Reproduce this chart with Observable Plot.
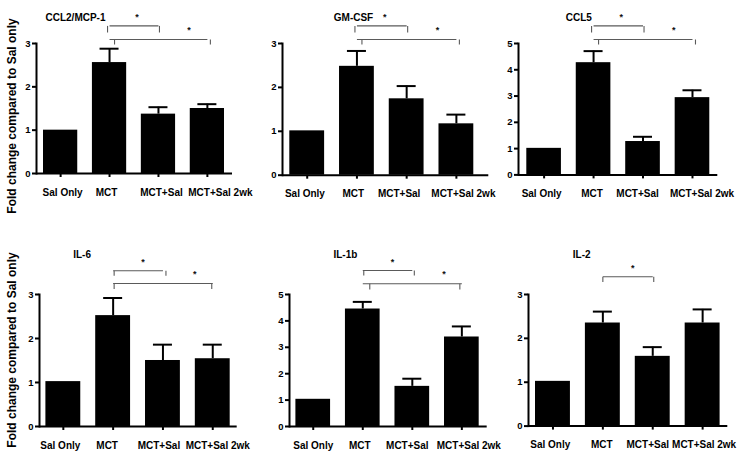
<!DOCTYPE html>
<html><head><meta charset="utf-8">
<script src="https://cdn.jsdelivr.net/npm/d3@7"></script>
<script src="https://cdn.jsdelivr.net/npm/@observablehq/plot@0.6"></script>
<style>
body{margin:0;background:#fff;}
#c{position:relative;width:747px;height:454px;overflow:hidden;font-family:"Liberation Sans",Arial,sans-serif;background:#fff;}
#c svg{position:absolute;overflow:visible;}
.yl{position:absolute;font-weight:bold;font-size:12px;white-space:nowrap;color:#000;transform:translate(-50%,-50%) rotate(-90deg);}
</style></head><body><div id="c"></div>
<script>
// ---- data ----
const categories = ["Sal Only", "MCT", "MCT+Sal", "MCT+Sal 2wk"];
const titles = ["CCL2/MCP-1", "GM-CSF", "CCL5", "IL-6", "IL-1b", "IL-2"];
const yMaxes = [3, 3, 5, 3, 5, 3];
const ccl2Mean = [1.00, 2.56, 1.37, 1.50];
const ccl2Sem  = [0, 0.32, 0.16, 0.10];
const gmcsfMean = [1.01, 2.48, 1.74, 1.17];
const gmcsfSem  = [0, 0.35, 0.29, 0.21];
const ccl5Mean = [1.01, 4.27, 1.27, 2.94];
const ccl5Sem  = [0, 0.44, 0.18, 0.28];
const il6Mean = [1.02, 2.52, 1.50, 1.54];
const il6Sem  = [0, 0.40, 0.36, 0.32];
const il1bMean = [1.03, 4.45, 1.52, 3.39];
const il1bSem  = [0, 0.27, 0.29, 0.40];
const il2Mean = [1.02, 2.35, 1.59, 2.35];
const il2Sem  = [0, 0.26, 0.21, 0.31];
const twoComparisons = [["MCT", "MCT+Sal"], ["MCT", "MCT+Sal 2wk"]];
const oneComparison = [["MCT", "MCT+Sal"]];
const yLabel = "Fold change compared to Sal only";

const panels = [
  {title: titles[0], yMax: yMaxes[0], mean: ccl2Mean, sem: ccl2Sem, comps: twoComparisons},
  {title: titles[1], yMax: yMaxes[1], mean: gmcsfMean, sem: gmcsfSem, comps: twoComparisons},
  {title: titles[2], yMax: yMaxes[2], mean: ccl5Mean, sem: ccl5Sem, comps: twoComparisons},
  {title: titles[3], yMax: yMaxes[3], mean: il6Mean, sem: il6Sem, comps: twoComparisons},
  {title: titles[4], yMax: yMaxes[4], mean: il1bMean, sem: il1bSem, comps: twoComparisons},
  {title: titles[5], yMax: yMaxes[5], mean: il2Mean, sem: il2Sem, comps: oneComparison}
];

// ---- layout (pixels) ----
const topRowBr = [{top: 17.6, leg: 11, star: 26.5, nl: -2, nr: 1, sdx: 3}, {top: 4, leg: -1, star: 13.3, nl: 5, nr: 3, sdx: 6}];
const botRowBr = [{top: 23.8, leg: 18.8, star: 32.5, nl: 1, nr: 3, sdx: 5}, {top: 11, leg: 5.5, star: 20, nl: 1, nr: -1, sdx: 7}];
const layout = [
  {axisX: 36, top: 43.3, bottom: 173.3, end: 232, b0: 43, b1: 224, tdx: 9, tup: 30, br: topRowBr, lab: [2, -3, 3, 13]},
  {axisX: 281.7, top: 43.3, bottom: 175, end: 488, b0: 289, b1: 473, tdx: 51.3, tup: 30, br: topRowBr, lab: [-2.3, -3.7, -7.5, 7]},
  {axisX: 517.7, top: 43.3, bottom: 174.7, end: 717, b0: 526, b1: 709, tdx: 47.3, tup: 30, br: topRowBr, lab: [-2.5, -1.5, -5.5, 9.5]},
  {axisX: 39.3, top: 293.7, bottom: 425.7, end: 237, b0: 45.7, b1: 230, tdx: 33.7, tup: 44, br: botRowBr, lab: [-3, -6, -4, 5]},
  {axisX: 289.3, top: 293.7, bottom: 425.7, end: 487, b0: 295.7, b1: 479, tdx: 44, tup: 44, lab: [0, -3, -5, 7],
   br: [{top: 24, leg: 19, star: 32.5, nl: 1, nr: 2, sdx: 5}, {top: 10.7, leg: 5, star: 20, nl: 7, nr: -2, sdx: 7}]},
  {axisX: 527.7, top: 293.7, bottom: 425.3, end: 727, b0: 534.7, b1: 719.3, tdx: 44.3, tup: 44, lab: [-2.7, -1, -5, 1.5],
   br: [{top: 17.7, leg: 12.4, star: 26.5, nl: 0, nr: 1, sdx: 5}]}
];

const container = document.getElementById("c");
const ML = 30, MR = 4, MT = 50, MB = 30;
const font = '"Liberation Sans", Arial, sans-serif';

panels.forEach((p, k) => {
  const L = layout[k];
  const frameH = L.bottom - L.top;
  const W = ML + (L.end - L.axisX) + MR;
  const H = MT + frameH + MB;
  const up = px => p.yMax * (1 + px / frameH);
  const rows = categories.map((c, i) => ({cat: c, mean: p.mean[i], sem: p.sem[i]}));
  const errRows = rows.filter(d => d.sem > 0);
  const step = (L.b1 - L.b0) / (4 - 0.3);
  const bw = step * 0.7;
  const capInset = (bw - 19) / 2;
  const brMarks = [];
  p.comps.forEach((pair, j) => {
    const s = L.br[j];
    const b = [{from: pair[0], to: pair[1], top: up(s.top), leg: up(s.leg), star: up(s.star)}];
    const st = {stroke: "#5a5a5a", strokeWidth: 1.1};
    brMarks.push(
      Plot.link(b, {x1: "from", x2: "to", y1: "top", y2: "top", ...st}),
      Plot.link(b, {x1: "from", x2: "from", y1: "top", y2: "leg", dx: s.nl, ...st}),
      Plot.link(b, {x1: "to", x2: "to", y1: "top", y2: "leg", dx: s.nr, ...st}),
      Plot.text(b, {x: "to", y: "star", text: () => "*", dx: -step / 2 + s.sdx, fontSize: 9, fontWeight: "bold", fill: "#111"})
    );
  });
  const labelMarks = categories.map((c, i) =>
    Plot.text([c], {x: d => d, frameAnchor: "bottom", lineAnchor: "top", dy: 15, dx: L.lab[i], fontSize: 10, fontWeight: "bold", fill: "#000"})
  );
  const chart = Plot.plot({
    width: W, height: H,
    marginLeft: ML, marginRight: MR, marginTop: MT, marginBottom: MB,
    style: {fontFamily: font, fontSize: "10px", fontWeight: "bold", color: "#000", background: "transparent", overflow: "visible"},
    x: {type: "band", domain: categories, range: [ML + L.b0 - L.axisX, ML + L.b1 - L.axisX], paddingInner: 0.3, paddingOuter: 0, round: false, label: null},
    y: {domain: [0, p.yMax], label: null},
    marks: [
      Plot.barY(rows, {x: "cat", y: "mean", fill: "#000"}),
      Plot.ruleX(errRows, {x: "cat", y1: "mean", y2: d => d.mean + d.sem, strokeWidth: 2, stroke: "#000"}),
      Plot.tickY(errRows, {x: "cat", y: d => d.mean + d.sem, strokeWidth: 2, stroke: "#000", insetLeft: capInset, insetRight: capInset}),
      Plot.ruleY([0], {strokeWidth: 2, stroke: "#000"}),
      Plot.frame({anchor: "left", strokeWidth: 2, stroke: "#000"}),
      Plot.axisY({ticks: d3.range(p.yMax + 1), tickFormat: "d", tickSize: 4, tickPadding: 2, strokeWidth: 2, fontSize: 9.5, fontWeight: "bold", label: null}),
      Plot.axisX({tickSize: 4, strokeWidth: 2, tickFormat: () => "", label: null}),
      ...labelMarks,
      ...brMarks,
      Plot.text([p.title], {frameAnchor: "top-left", dx: L.tdx, dy: -L.tup, textAnchor: "start", fontSize: 10, fontWeight: "bold", fill: "#000"})
    ]
  });
  chart.style.left = (L.axisX - ML) + "px";
  chart.style.top = (L.top - MT) + "px";
  container.appendChild(chart);
});

[[12, 116], [12, 350]].forEach(([x, y]) => {
  const d = document.createElement("div");
  d.className = "yl";
  d.textContent = yLabel;
  d.style.left = x + "px";
  d.style.top = y + "px";
  container.appendChild(d);
});
</script>
</body></html>
